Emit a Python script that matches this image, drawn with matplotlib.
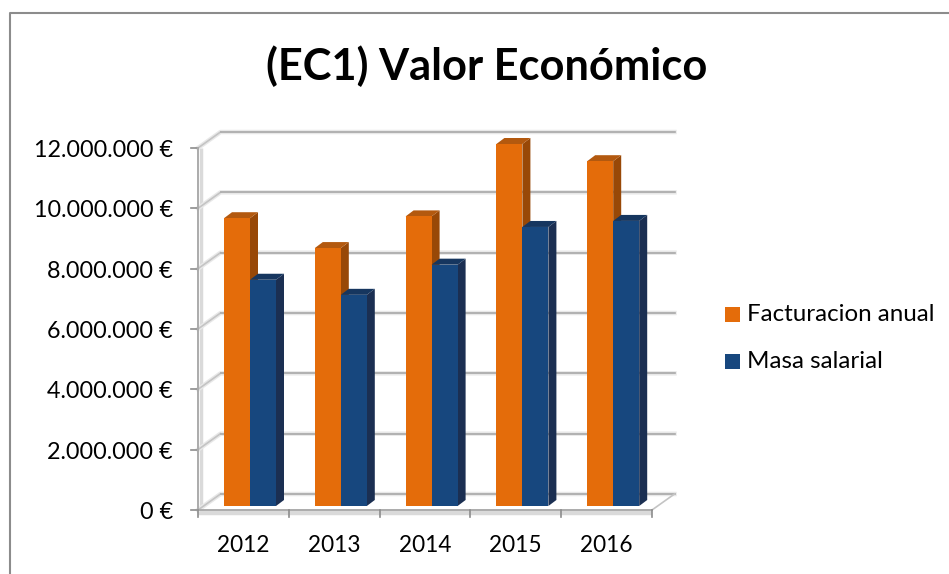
import matplotlib
matplotlib.use("Agg")
import matplotlib.pyplot as plt
from matplotlib.patches import Rectangle

W, H = 949, 574
years = ["2012", "2013", "2014", "2015", "2016"]
facturacion = [9540000, 8550000, 9600000, 12000000, 11430000]
masa = [7500000, 7000000, 8000000, 9250000, 9450000]
y_ticks = [0, 2000000, 4000000, 6000000, 8000000, 10000000, 12000000]
y_labels = ["0 €", "2.000.000 €", "4.000.000 €", "6.000.000 €", "8.000.000 €", "10.000.000 €", "12.000.000 €"]
series_names = ["Facturacion anual", "Masa salarial"]

ORANGE, ORANGE_SIDE, ORANGE_TOP = "#E46C0A", "#984807", "#B3590F"
BLUE, BLUE_SIDE, BLUE_TOP = "#17477E", "#1B2F52", "#16365F"
GRID = "#A8A8A8"
HALO = "#E8E8E8"
FONT = ["Lato", "DejaVu Sans"]

fig = plt.figure(figsize=(W / 100, H / 100), dpi=100, facecolor="white")
L, R, T, B = 198, 652, 148, 510
ax = fig.add_axes([L / W, 1 - B / H, (R - L) / W, (B - T) / H])
ax.set_xlim(0, len(years))
ax.set_ylim(0, 12000000)
ax.axis("off")

px = len(years) / (R - L)       # data units per pixel, x
py = 12000000 / (B - T)         # data units per pixel, y
wall_dx, wall_dy = 22.5 * px, 16 * py
bar_dx, bar_dy = 8 * px, 6 * py
bar_w = 26 * px
base = 4 * py
shift = 26 * px

# light bands along the two front axes
ax.plot([0, 5], [-2.5 * py, -2.5 * py], color="#DADADA", lw=3.2, clip_on=False, zorder=0.5, solid_capstyle="butt")
ax.plot([2.5 * px, 2.5 * px], [0, 12000000], color="#DADADA", lw=2.5, clip_on=False, zorder=0.5, solid_capstyle="butt")

for v, lab in zip(y_ticks, y_labels):
    xs = [0, wall_dx, 5 + wall_dx]
    ys = [v, v + wall_dy, v + wall_dy]
    ax.plot(xs, ys, color=HALO, lw=3.2, clip_on=False, zorder=0.8, solid_joinstyle="round")
    ax.plot(xs[:2], ys[:2], color="#C4C4C4", lw=1.2, clip_on=False, zorder=1)
    ax.plot(xs[1:], ys[1:], color=GRID, lw=1.2, clip_on=False, zorder=1)
    ax.plot([-7 * px, 0], [v, v], color="#8C8C8C", lw=1.2, clip_on=False, zorder=2)
    ax.text(-25 * px, v - 2.5 * py, lab, ha="right", va="center", fontsize=16.8, family=FONT, color="black")
ax.plot([0, 0], [0, 12000000], color="#ABABAB", lw=1.4, clip_on=False, zorder=2)
ax.plot([0, 5], [0, 0], color="#ABABAB", lw=1.4, clip_on=False, zorder=2)
ax.plot([5, 5 + wall_dx], [0, wall_dy], color="#C4C4C4", lw=1.2, clip_on=False, zorder=1)
for i in range(len(years) + 1):
    ax.plot([i, i], [0, -7 * py], color="#8C8C8C", lw=1.2, clip_on=False, zorder=2)
for i, yr in enumerate(years):
    ax.text(i + 0.5, -36 * py, yr, ha="center", va="center", fontsize=16.3, family=FONT, color="black")

def bar3d(x, v, c, cs, ct, z):
    ax.bar(x, v, bar_w, bottom=base, align="edge", color=c, ec="none", clip_on=False, zorder=z)
    top = base + v
    ax.fill([x + bar_w, x + bar_w + bar_dx, x + bar_w + bar_dx, x + bar_w],
            [base, base + bar_dy, top + bar_dy, top], color=cs, ec="none", clip_on=False, zorder=z - 0.1)
    ax.fill([x, x + bar_dx, x + bar_w + bar_dx, x + bar_w],
            [top, top + bar_dy, top + bar_dy, top], color=ct, ec="none", clip_on=False, zorder=z - 0.1)

for i in range(len(years)):
    x0 = i + shift
    bar3d(x0, facturacion[i], ORANGE, ORANGE_SIDE, ORANGE_TOP, 3)
    bar3d(x0 + bar_w, masa[i], BLUE, BLUE_SIDE, BLUE_TOP, 4)

fig.text(487 / W, 1 - 66 / H, "(EC1) Valor Económico", ha="center", va="center", fontsize=31.2, fontweight="bold", family=FONT, color="black")

# legend
for yy, c, name in zip([314, 361], [ORANGE, BLUE], series_names):
    fig.add_artist(Rectangle((725 / W, 1 - (yy + 7.5) / H), 15 / W, 15 / H, transform=fig.transFigure, fc=c, ec="none"))
    fig.text(747 / W, 1 - (yy + 0.5) / H, name, ha="left", va="center", fontsize=17.4, family=FONT, color="black")

# chart frame: left and top edges only reach the picture
fx = [10 / W, 10 / W, 1]
fy = [0, 1 - 12.5 / H, 1 - 12.5 / H]
fig.add_artist(plt.Line2D(fx, fy, transform=fig.transFigure, color="#8C8C8C", lw=1.5))

fig.savefig("out.png", dpi=100)
